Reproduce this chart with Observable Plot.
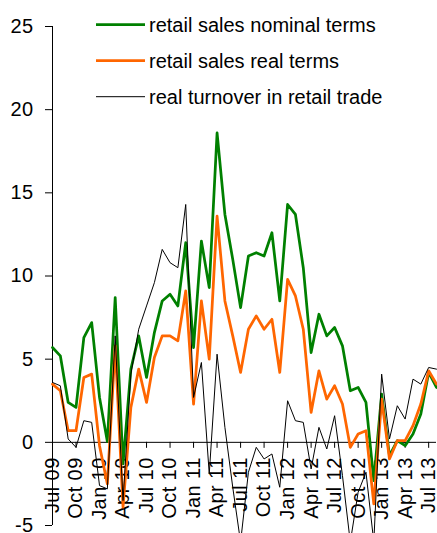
<!DOCTYPE html>
<html><head><meta charset="utf-8">
<script src="https://cdn.jsdelivr.net/npm/d3@7"></script>
<script src="https://cdn.jsdelivr.net/npm/@observablehq/plot@0.6"></script>
<style>body{margin:0;background:#fff} #chart{width:437px;height:533px}</style>
</head><body><div id="chart"></div>
<script>
// Monthly data, Jul 09 .. Aug 13 (50 months), y/y % change
const tickLabels = ["Jul 09","Oct 09","Jan 10","Apr 10","Jul 10","Oct 10","Jan 11","Apr 11","Jul 11","Oct 11","Jan 12","Apr 12","Jul 12","Oct 12","Jan 13","Apr 13","Jul 13"];
const nominal = [5.7,5.2,2.4,2.1,6.3,7.2,2.7,0.05,8.7,-1.3, 4.4,6.4,3.9,6.6,8.5,8.9,8.2,12.0,5.7,12.1, 9.3,18.6,13.7,11.0,8.1,11.2,11.4,11.2,12.6,8.5, 14.3,13.7,10.5,5.4,7.7,6.4,6.9,5.8,3.1,3.3, 2.4,-2.3,2.9,-0.8,0.1,-0.2,0.5,1.7,4.2,3.3];
const real = [3.5,3.1,0.7,0.7,3.9,4.1,-0.2,-2.5,5.8,-3.9, 2.1,4.4,2.4,5.1,6.4,6.4,6.1,9.1,2.3,8.5, 5.0,13.6,8.5,6.4,4.2,6.8,7.6,6.8,7.4,4.2, 9.8,8.8,6.8,1.8,4.3,2.6,3.4,2.3,-0.3,0.5, 0.7,-3.7,2.6,-1.0,0.1,0.1,1.0,2.3,4.3,3.5];
const turnover = [3.6,3.4,0.2,-0.3,1.3,1.2,-2.6,-2.8,6.4,-3.5, 4.1,6.8,8.2,9.6,11.6,10.8,10.5,14.3,2.7,4.8, -1.9,5.3,0.9,-2.7,-6.0,-1.8,-0.3,-1.0,-0.7,-2.7, 2.5,1.3,1.2,-1.6,0.9,-0.4,1.6,-2.0,-6.0,-3.0, -1.8,-6.0,4.1,0.2,2.2,1.4,3.8,3.5,4.5,4.4];
const seriesNames = ["retail sales nominal terms","retail sales real terms","real turnover in retail trade"];
const seriesColors = ["#008000","#ff6600","#000000"];
const seriesWidths = [2.75, 2.75, 1];
const yTicks = [-5,0,5,10,15,20,25];

const W = 437, H = 533, mL = 52, mR = 1, mT = 26, mB = 8;
const yMin = -5, yMax = 25;
const series = [nominal, real, turnover];
const ticks = tickLabels.map((t, j) => ({i: j * 3, t}));
const pxPerUnit = (H - mT - mB) / (yMax - yMin);
const tickLen = 6 / pxPerUnit;
const font = "'Liberation Sans', Arial, sans-serif";

const plot = Plot.plot({
  width: W, height: H,
  marginLeft: mL, marginRight: mR, marginTop: mT, marginBottom: mB,
  style: {fontFamily: font, fontSize: "20px", color: "#000", background: "#fff", letterSpacing: "0.4px"},
  x: {type: "linear", domain: [0, nominal.length - 1], axis: null},
  y: {domain: [yMin, yMax], ticks: yTicks, tickSize: 7, tickPadding: 12, tickFormat: d => String(d), label: null, fontSize: 20},
  marks: [
    Plot.ruleX([0], {stroke: "#000", strokeWidth: 1}),
    Plot.ruleY([0], {stroke: "#000", strokeWidth: 1}),
    Plot.ruleX(ticks, {x: "i", y1: 0, y2: -tickLen, stroke: "#000", strokeWidth: 1}),
    Plot.text(ticks, {x: "i", y: 0, text: "t", rotate: -90, textAnchor: "end", dy: 15, fill: "#000", fontSize: 20}),
    ...series.map((arr, k) => Plot.line(arr.map((v, i) => ({i, v})), {
      x: "i", y: "v", stroke: seriesColors[k], strokeWidth: seriesWidths[k], strokeLinejoin: "round"
    }))
  ]
});
document.getElementById("chart").appendChild(plot);

// Legend inside the plot area
const svg = d3.select(plot);
const lg = svg.append("g").attr("font-family", font).attr("font-size", 20)
  .attr("letter-spacing", "0px").attr("text-anchor", "start");
seriesNames.forEach((name, k) => {
  const cy = 24.7 + k * 36;
  lg.append("line").attr("x1", 96).attr("x2", 145).attr("y1", cy).attr("y2", cy)
    .attr("stroke", seriesColors[k]).attr("stroke-width", seriesWidths[k]);
  lg.append("text").attr("x", 149).attr("y", cy).attr("dy", "0.35em")
    .attr("fill", "#000").attr("text-anchor", "start").text(name);
});
</script>
</body></html>
